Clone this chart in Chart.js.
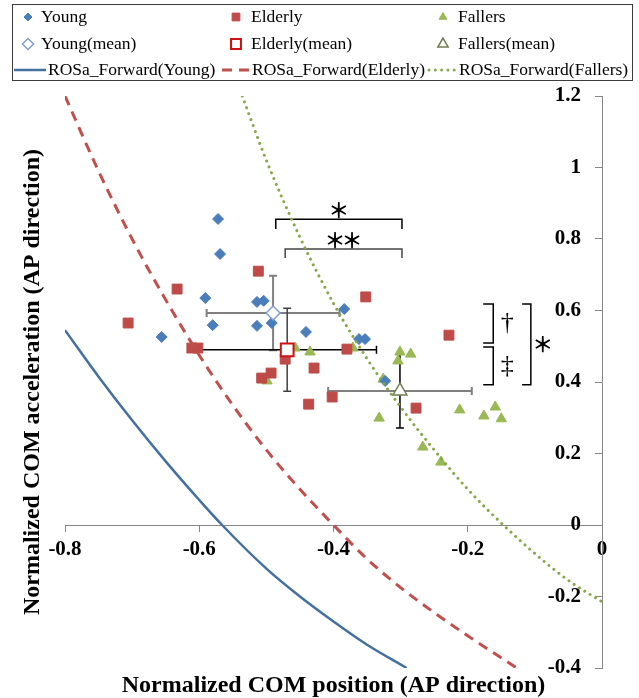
<!DOCTYPE html>
<html>
<head>
<meta charset="utf-8">
<script src="https://cdn.jsdelivr.net/npm/chart.js@4/dist/chart.umd.min.js"></script>
<style>
  html, body { margin: 0; padding: 0; background: #fff; }
</style>
</head>
<body>
<canvas id="chart" width="639" height="698"></canvas>
<script>
// individual subjects: normalized COM position (x) / acceleration (y)
const youngX = [-0.572, -0.569, -0.591, -0.580, -0.656, -0.514, -0.504, -0.514, -0.492, -0.441, -0.384, -0.362, -0.353, -0.323];
const youngY = [0.856, 0.758, 0.635, 0.559, 0.526, 0.624, 0.627, 0.557, 0.565, 0.540, 0.604, 0.520, 0.520, 0.403];
const elderlyX = [-0.706, -0.633, -0.512, -0.611, -0.602, -0.472, -0.507, -0.493, -0.429, -0.437, -0.352, -0.380, -0.402, -0.228, -0.277];
const elderlyY = [0.565, 0.660, 0.710, 0.495, 0.495, 0.464, 0.411, 0.425, 0.439, 0.338, 0.638, 0.492, 0.358, 0.531, 0.327];
const fallersX = [-0.457, -0.435, -0.499, -0.371, -0.301, -0.304, -0.285, -0.326, -0.332, -0.212, -0.176, -0.159, -0.150, -0.267, -0.240];
const fallersY = [0.495, 0.484, 0.403, 0.495, 0.484, 0.459, 0.478, 0.408, 0.299, 0.322, 0.305, 0.330, 0.297, 0.218, 0.176];

// group means and SD (Young, Elderly, Fallers)
const groups = ['Young', 'Elderly', 'Fallers'];
const meanX = [-0.490, -0.469, -0.301];
const meanY = [0.593, 0.490, 0.375];
const sdX = [0.099, 0.133, 0.107];
const sdY = [0.104, 0.116, 0.104];

// ROSa forward boundaries
const rosYoungX = [-0.8, -0.75, -0.7, -0.65, -0.6, -0.566, -0.5, -0.45, -0.4, -0.35, -0.291];
const rosYoungY = [0.545, 0.415, 0.293, 0.178, 0.07, 0, -0.122, -0.2, -0.27, -0.335, -0.4];
const rosElderlyX = [-0.8, -0.75, -0.7, -0.65, -0.6, -0.55, -0.5, -0.45, -0.4, -0.35, -0.3, -0.25, -0.2, -0.127];
const rosElderlyY = [1.2, 0.99, 0.8, 0.63, 0.475, 0.335, 0.21, 0.1, 0, -0.095, -0.175, -0.245, -0.31, -0.4];
const rosFallersX = [-0.536, -0.5, -0.45, -0.4, -0.35, -0.3, -0.25, -0.2, -0.147, -0.1, -0.05, 0];
const rosFallersY = [1.2, 1.02, 0.805, 0.62, 0.465, 0.33, 0.21, 0.1, 0, -0.08, -0.155, -0.215];

// axes
const xMin = -0.8, xMax = 0, xStep = 0.2;
const yMin = -0.4, yMax = 1.2, yStep = 0.2;
const xTitle = 'Normalized COM position (AP direction)';
const yTitle = 'Normalized COM acceleration (AP direction)';

// significance brackets
const topBracketX1 = [-0.486, -0.472];
const topBracketX2 = [-0.298, -0.298];
const topBracketY = [0.855, 0.772];
const topBracketEndY = [0.828, 0.747];
const topBracketLabel = ['＊', '＊＊'];
const sideBracketX = [-0.162, -0.162, -0.106];
const sideBracketArmX = [-0.177, -0.177, -0.119];
const sideBracketY1 = [0.618, 0.498, 0.618];
const sideBracketY2 = [0.509, 0.392, 0.392];
const sideBracketLabel = ['†', '‡', '＊'];

const serif = '"Liberation Serif", "Times New Roman", serif';
const pts = (xs, ys) => xs.map((x, i) => ({ x: x, y: ys[i] }));

const datasets = [
    { label: 'Young', data: pts(youngX, youngY), pointStyle: 'rectRot', pointRadius: 5.5,
      backgroundColor: '#4a7ebb', borderColor: '#4a7ebb', borderWidth: 1, order: 2 },
    { label: 'Elderly', data: pts(elderlyX, elderlyY), pointStyle: 'rect', pointRadius: 7,
      backgroundColor: '#be4b48', borderColor: '#be4b48', borderWidth: 1, order: 2 },
    { label: 'Fallers', data: pts(fallersX, fallersY), pointStyle: 'triangle', pointRadius: 6,
      backgroundColor: '#98b954', borderColor: '#98b954', borderWidth: 1, order: 2 },
    { label: 'Young(mean)', data: [{ x: meanX[0], y: meanY[0] }], pointStyle: 'rectRot', pointRadius: 7,
      backgroundColor: '#ffffff', borderColor: '#7f9fd0', borderWidth: 1.5, order: 1 },
    { label: 'Elderly(mean)', data: [{ x: meanX[1], y: meanY[1] }], pointStyle: 'rect', pointRadius: 9,
      backgroundColor: '#ffffff', borderColor: '#d01010', borderWidth: 2, order: 1 },
    { label: 'Fallers(mean)', data: [{ x: meanX[2], y: meanY[2] }], pointStyle: 'triangle', pointRadius: 8,
      backgroundColor: '#ffffff', borderColor: '#6f7d52', borderWidth: 1.5, order: 1 },
    { label: 'ROSa_Forward(Young)', data: pts(rosYoungX, rosYoungY), showLine: true, pointRadius: 0,
      borderColor: '#44709f', borderWidth: 2.5, cubicInterpolationMode: 'monotone', order: 0 },
    { label: 'ROSa_Forward(Elderly)', data: pts(rosElderlyX, rosElderlyY), showLine: true, pointRadius: 0,
      borderColor: '#c0504d', borderWidth: 3, borderDash: [10, 7], cubicInterpolationMode: 'monotone', order: 0 },
    { label: 'ROSa_Forward(Fallers)', data: pts(rosFallersX, rosFallersY), showLine: true, pointRadius: 0,
      borderColor: '#86a84a', borderWidth: 3, borderDash: [0.01, 6.3], borderCapStyle: 'round',
      cubicInterpolationMode: 'monotone', order: 0 }
];

const bracketColors = ['#000000', '#444444'];
topBracketX1.forEach((x1, i) => {
    datasets.push({
        label: 'bracket' + i,
        data: [{ x: x1, y: topBracketEndY[i] }, { x: x1, y: topBracketY[i] },
               { x: topBracketX2[i], y: topBracketY[i] }, { x: topBracketX2[i], y: topBracketEndY[i] }],
        showLine: true, pointRadius: 0, borderColor: bracketColors[i], borderWidth: 1.5, order: 3
    });
});
sideBracketX.forEach((x, i) => {
    datasets.push({
        label: 'sideBracket' + i,
        data: [{ x: sideBracketArmX[i], y: sideBracketY1[i] }, { x: x, y: sideBracketY1[i] },
               { x: x, y: sideBracketY2[i] }, { x: sideBracketArmX[i], y: sideBracketY2[i] }],
        showLine: true, pointRadius: 0, borderColor: '#000000', borderWidth: 1.5, order: 3
    });
});

// error bars of the group means
const errColH = ['#7f7f7f', '#000000', '#7f7f7f'];
const errColV = ['#7f7f7f', '#404040', '#000000'];
const errorBars = {
    id: 'errorBars',
    beforeDatasetsDraw(chart) {
        const c = chart.ctx, xs = chart.scales.x, ys = chart.scales.y;
        const cap = 4;
        c.save();
        meanX.forEach((mx, i) => {
            const px = xs.getPixelForValue(mx), py = ys.getPixelForValue(meanY[i]);
            const l = xs.getPixelForValue(mx - sdX[i]), r = xs.getPixelForValue(mx + sdX[i]);
            const t = ys.getPixelForValue(meanY[i] + sdY[i]), b = ys.getPixelForValue(meanY[i] - sdY[i]);
            c.strokeStyle = errColH[i];
            c.lineWidth = errColH[i] === '#000000' ? 1.5 : 2;
            c.beginPath();
            c.moveTo(l, py); c.lineTo(r, py);
            c.moveTo(l, py - cap); c.lineTo(l, py + cap);
            c.moveTo(r, py - cap); c.lineTo(r, py + cap);
            c.stroke();
            c.strokeStyle = errColV[i];
            c.lineWidth = errColV[i] === '#7f7f7f' ? 2 : 1.5;
            c.beginPath();
            c.moveTo(px, t); c.lineTo(px, b);
            c.moveTo(px - cap, t); c.lineTo(px + cap, t);
            c.moveTo(px - cap, b); c.lineTo(px + cap, b);
            c.stroke();
        });
        c.restore();
    }
};

// significance marks, axis titles and the boxed legend
const legendRows = [[0, 1, 2], [3, 4, 5], [6, 7, 8]];
const legendRadius = [4, 5.5, 4.5, 5.5, 7, 6];
const legendRowY = [17, 44, 70];
const markX = [28, 236, 443], markTextX = [41, 251, 458];
const lineX1 = [14, 222, 429], lineX2 = [46, 249, 456], lineTextX = [48, 252, 459];

function drawMark(c, text, cx, cy, font, pitch) {
    c.font = font;
    const chars = Array.from(text);
    const start = cx - (chars.length - 1) * pitch / 2;
    chars.forEach((ch, k) => c.fillText(ch, start + k * pitch, cy));
}

const overlay = {
    id: 'overlay',
    afterDraw(chart) {
        const c = chart.ctx, xs = chart.scales.x, ys = chart.scales.y, area = chart.chartArea;
        const ds = chart.data.datasets;
        c.save();
        c.fillStyle = '#000';
        c.textAlign = 'center';
        c.textBaseline = 'middle';
        const star = 'bold 21px "Noto Sans CJK JP", sans-serif';
        topBracketLabel.forEach((txt, i) => {
            const cx = xs.getPixelForValue((topBracketX1[i] + topBracketX2[i]) / 2);
            const cy = ys.getPixelForValue(topBracketY[i]) - 9;
            drawMark(c, txt, cx, cy, star, 17);
        });
        sideBracketLabel.forEach((txt, i) => {
            const cx = xs.getPixelForValue(sideBracketX[i]) + (txt === '＊' ? 12 : 14);
            const cy = ys.getPixelForValue((sideBracketY1[i] + sideBracketY2[i]) / 2);
            drawMark(c, txt, cx, cy, txt === '＊' ? star : '26px ' + serif, 16);
        });

        // axis titles
        c.font = 'bold 24px ' + serif;
        c.fillText(xTitle, (area.left + area.right) / 2, 686);
        c.save();
        c.translate(33, (area.top + area.bottom) / 2);
        c.rotate(-Math.PI / 2);
        c.fillText(yTitle, 0, 0);
        c.restore();

        // legend
        c.strokeStyle = '#3c3c3c';
        c.lineWidth = 1;
        c.strokeRect(12.5, 4.5, 620, 76);
        c.textAlign = 'left';
        legendRows.forEach((row, r) => {
            const y = legendRowY[r];
            row.forEach((di, col) => {
                const d = ds[di];
                c.font = '17.5px ' + serif;
                if (d.showLine) {
                    c.save();
                    c.strokeStyle = d.borderColor;
                    c.lineWidth = d.borderWidth;
                    c.setLineDash(d.borderDash || []);
                    c.lineCap = d.borderCapStyle || 'butt';
                    c.beginPath();
                    c.moveTo(lineX1[col], y);
                    c.lineTo(lineX2[col], y);
                    c.stroke();
                    c.restore();
                    c.fillText(d.label, lineTextX[col], y);
                } else {
                    c.save();
                    c.fillStyle = d.backgroundColor;
                    c.strokeStyle = d.borderColor;
                    c.lineWidth = d.borderWidth;
                    Chart.helpers.drawPoint(c, { pointStyle: d.pointStyle, radius: legendRadius[di],
                        borderWidth: d.borderWidth, rotation: 0 }, markX[col], y);
                    c.restore();
                    c.fillText(d.label, markTextX[col], y);
                }
            });
        });
        c.restore();
    }
};

const tickFont = { family: serif, size: 21, weight: 'bold' };

new Chart(document.getElementById('chart'), {
    type: 'scatter',
    data: { datasets: datasets },
    options: {
        responsive: false,
        animation: false,
        layout: { padding: { left: 65, top: 96, right: 37, bottom: 30 } },
        plugins: { legend: { display: false }, tooltip: { enabled: false } },
        scales: {
            x: {
                type: 'linear', position: { y: 0 }, min: xMin, max: xMax,
                ticks: { stepSize: xStep, font: tickFont, color: '#000', padding: 6, maxRotation: 0 },
                grid: { display: true, drawOnChartArea: false, drawTicks: true, tickLength: 6, color: '#868686' },
                border: { display: true, color: '#868686', width: 1 }
            },
            y: {
                type: 'linear', position: { x: 0 }, min: yMin, max: yMax,
                ticks: { stepSize: yStep, font: tickFont, color: '#000', callback: v => String(v) + '    ' },
                grid: { display: true, drawOnChartArea: false, drawTicks: true, tickLength: 7, color: '#868686' },
                border: { display: true, color: '#868686', width: 1 }
            }
        }
    },
    plugins: [errorBars, overlay]
});
</script>
</body>
</html>
